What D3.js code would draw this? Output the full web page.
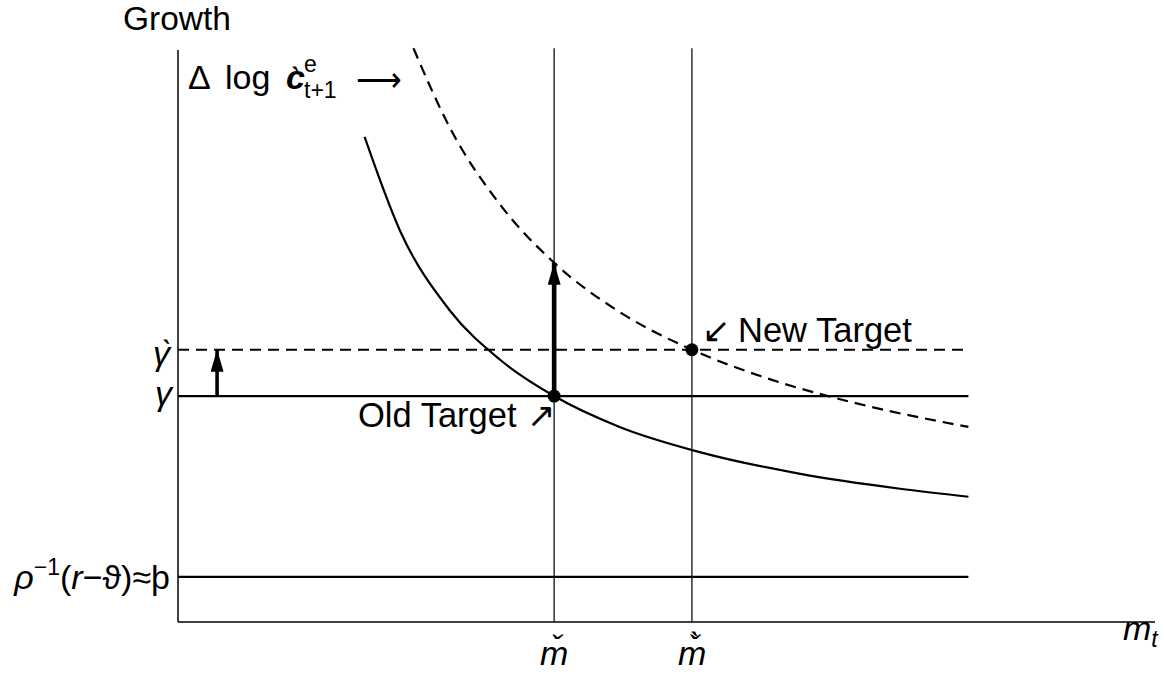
<!DOCTYPE html>
<html><head><meta charset="utf-8">
<script src="https://cdn.jsdelivr.net/npm/d3@7"></script>
<style>
body{margin:0;background:#fff;}
svg text{font-family:"Liberation Sans",Arial,Helvetica,sans-serif;fill:#000;}
</style></head>
<body><svg id="c" width="1165" height="675"></svg>
<script>
// ---- data (abstract model units) ----
const xDomain = [0, 10];
const yDomain = [0, 10];
const mCheck = 3.85;          // old target m
const mGrave = 5.26;          // new target m
const gammaOld = 3.95;        // γ
const gammaNew = 4.76;        // γ̀
const thornLevel = 0.79;      // ρ^-1(r−ϑ) ≈ þ
const lineEndX = 8.09;
const vLineTop = 10.03;
const smallArrowX = 0.40;
const bigArrowTop = 6.28;
const oldCurveX = [1.91, 2.27, 2.78, 3.30, 3.85, 4.52, 5.34, 6.37, 7.39, 8.09];
const oldCurveY = [8.48, 6.85, 5.45, 4.58, 3.95, 3.41, 2.97, 2.59, 2.33, 2.19];
const newCurveX = [2.41, 2.78, 3.30, 3.85, 4.52, 5.26, 5.96, 6.88, 8.09];
const newCurveY = [10.03, 8.65, 7.29, 6.28, 5.42, 4.76, 4.30, 3.85, 3.41];

const svg = d3.select("#c");
const x = d3.scaleLinear().domain(xDomain).range([178, 1155]);
const y = d3.scaleLinear().domain(yDomain).range([622, 50]);
const FS = 34, SS = 23;

// defs arrowhead
svg.append("defs").append("marker")
  .attr("id","ah").attr("viewBox","0 0 22 13").attr("refX",22).attr("refY",6.5)
  .attr("markerWidth",22).attr("markerHeight",13).attr("markerUnits","userSpaceOnUse")
  .attr("orient","auto")
  .append("path").attr("d","M0,0 L22,6.5 L0,13 Z").attr("fill","#000");

// axes
svg.append("line").attr("x1",x(0)).attr("x2",x(0)).attr("y1",y(10)).attr("y2",y(0))
  .attr("stroke","#000").attr("stroke-width",1.5);
svg.append("line").attr("x1",x(0)).attr("x2",x(10)).attr("y1",y(0)).attr("y2",y(0))
  .attr("stroke","#000").attr("stroke-width",1.5);

// vertical lines
[mCheck, mGrave].forEach(v=>{
  svg.append("line").attr("x1",x(v)).attr("x2",x(v)).attr("y1",y(vLineTop)).attr("y2",y(0))
    .attr("stroke","#222").attr("stroke-width",1.4);
});

// horizontal lines
svg.append("line").attr("x1",x(0)).attr("x2",x(lineEndX)).attr("y1",y(gammaOld)).attr("y2",y(gammaOld))
  .attr("stroke","#000").attr("stroke-width",2.2);
svg.append("line").attr("x1",x(0)).attr("x2",x(lineEndX)).attr("y1",y(gammaNew)).attr("y2",y(gammaNew))
  .attr("stroke","#000").attr("stroke-width",2.2).attr("stroke-dasharray","11,7");
svg.append("line").attr("x1",x(0)).attr("x2",x(lineEndX)).attr("y1",y(thornLevel)).attr("y2",y(thornLevel))
  .attr("stroke","#000").attr("stroke-width",2.2);

// curves
const line = d3.line().x(d=>x(d[0])).y(d=>y(d[1])).curve(d3.curveMonotoneX);
svg.append("path").attr("d", line(oldCurveX.map((v,i)=>[v, oldCurveY[i]])))
  .attr("fill","none").attr("stroke","#000").attr("stroke-width",2.2);
svg.append("path").attr("d", line(newCurveX.map((v,i)=>[v, newCurveY[i]])))
  .attr("fill","none").attr("stroke","#000").attr("stroke-width",2.2).attr("stroke-dasharray","11,7");

// arrows
svg.append("line").attr("x1",x(smallArrowX)).attr("x2",x(smallArrowX))
  .attr("y1",y(gammaOld)).attr("y2",y(gammaNew))
  .attr("stroke","#000").attr("stroke-width",3.6).attr("marker-end","url(#ah)");
svg.append("line").attr("x1",x(mCheck)).attr("x2",x(mCheck))
  .attr("y1",y(gammaOld)).attr("y2",y(bigArrowTop))
  .attr("stroke","#000").attr("stroke-width",4.6).attr("marker-end","url(#ah)");

// dots
[[mCheck,gammaOld],[mGrave,gammaNew]].forEach(p=>{
  svg.append("circle").attr("cx",x(p[0])).attr("cy",y(p[1])).attr("r",6.5).attr("fill","#000");
});

// text
svg.append("text").attr("x",123).attr("y",30).attr("font-size",33.5).text("Growth");

// Δ log ċ^e_{t+1} ⟶  (one text, positioned tspans)
const t1 = svg.append("text").attr("font-size",FS);
t1.append("tspan").attr("x",188).attr("y",89).text("\u0394");
t1.append("tspan").attr("x",225).attr("y",89).text("log");
t1.append("tspan").attr("x",286).attr("y",89).attr("font-weight","bold").attr("font-style","italic").text("c");
t1.append("tspan").attr("x",290).attr("y",91).text("\u02CB");
t1.append("tspan").attr("x",304).attr("y",72).attr("font-size",SS).text("e");
t1.append("tspan").attr("x",304).attr("y",98).attr("font-size",SS).text("t+1");
svg.append("text").attr("x",356).attr("y",91).attr("font-size",FS)
  .attr("textLength",46).attr("lengthAdjust","spacingAndGlyphs").text("\u27F6");

// y labels
const tg = svg.append("text").attr("font-size",FS);
tg.append("tspan").attr("x",153).attr("y",y(gammaNew)+15).attr("font-style","italic").text("\u03B3");
tg.append("tspan").attr("x",161).attr("y",y(gammaNew)+14).text("\u02CB");
svg.append("text").attr("x",172).attr("y",y(gammaOld)+9).attr("text-anchor","end")
  .attr("font-size",FS).attr("font-style","italic").text("\u03B3");
const t2 = svg.append("text").attr("x",170).attr("y",y(thornLevel)+12).attr("text-anchor","end").attr("font-size",FS);
t2.append("tspan").attr("font-style","italic").text("\u03C1");
t2.append("tspan").attr("font-size",SS).attr("dy",-14).text("\u22121");
t2.append("tspan").attr("dy",14).text("(");
t2.append("tspan").attr("font-style","italic").text("r");
t2.append("tspan").text("\u2212\u03D1)\u2248\u00FE");

// x labels
svg.append("text").attr("x",x(mCheck)).attr("y",665).attr("text-anchor","middle")
  .attr("font-size",FS).attr("font-style","italic").text("m\u030C");
const tm = svg.append("text").attr("font-size",FS);
tm.append("tspan").attr("x",x(mGrave)-14).attr("y",665).attr("font-style","italic").text("m\u030C");
tm.append("tspan").attr("x",x(mGrave)-3).attr("y",656).text("\u02CB");
const t3 = svg.append("text").attr("x",1123).attr("y",640).attr("font-size",FS).attr("font-style","italic");
t3.append("tspan").text("m");
t3.append("tspan").attr("font-size",SS).attr("dy",7).text("t");

// annotations
const to = svg.append("text").attr("font-size",34.5);
to.append("tspan").attr("x",358).attr("y",427).text("Old Target");
to.append("tspan").attr("x",527).attr("y",427).attr("font-size",FS).text("\u2197");
const tn = svg.append("text").attr("font-size",34.5);
tn.append("tspan").attr("x",702).attr("y",342).attr("font-size",FS).text("\u2199");
tn.append("tspan").attr("x",738).attr("y",342).text("New Target");
</script></body></html>
